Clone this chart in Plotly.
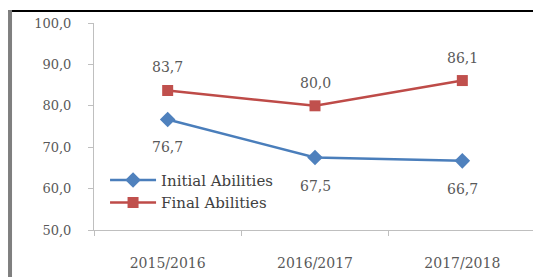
import plotly.graph_objects as go

years = ["2015/2016", "2016/2017", "2017/2018"]
initial_abilities = [76.7, 67.5, 66.7]
final_abilities = [83.7, 80.0, 86.1]
y_ticks = [50, 60, 70, 80, 90, 100]

FONT = "DejaVu Serif"
GRAY = "#595959"

fig = go.Figure()
fig.add_trace(go.Scatter(
    x=years, y=initial_abilities, name="Initial Abilities",
    mode="lines+markers",
    line=dict(color="#4A7EBB", width=2.5),
    marker=dict(symbol="diamond", size=12, color="#4F81BD"),
))
fig.add_trace(go.Scatter(
    x=years, y=final_abilities, name="Final Abilities",
    mode="lines+markers",
    line=dict(color="#BE4B48", width=2.5),
    marker=dict(symbol="square", size=11, color="#C0504D"),
))

annotations = []
for xv, yv in zip(years, initial_abilities):
    annotations.append(dict(x=xv, y=yv, text=f"{yv:.1f}".replace(".", ","), showarrow=False,
                            yshift=-28, font=dict(family=FONT, size=14, color=GRAY)))
for xv, yv in zip(years, final_abilities):
    annotations.append(dict(x=xv, y=yv, text=f"{yv:.1f}".replace(".", ","), showarrow=False,
                            yshift=23, font=dict(family=FONT, size=14, color=GRAY)))

fig.update_layout(
    width=533, height=269,
    margin=dict(l=86, r=5, t=15, b=47),
    paper_bgcolor="white", plot_bgcolor="white",
    separators=",.",
    font=dict(family=FONT, size=14, color=GRAY),
    showlegend=True,
    legend=dict(x=0.025, y=0.32, xanchor="left", yanchor="top",
                bgcolor="rgba(0,0,0,0)", font=dict(family=FONT, size=15, color="#404040"),
                tracegroupgap=0, itemwidth=46),
    xaxis=dict(type="category", range=[-0.5, 2.5], showgrid=False,
               showline=True, linecolor="#BFBFBF", linewidth=1,
               ticks="outside", tickson="boundaries", ticklen=5, tickcolor="#BFBFBF",
               ticklabelstandoff=20, tickfont=dict(family=FONT, size=14, color=GRAY)),
    yaxis=dict(range=[50, 100], tickvals=y_ticks, tickformat=".1f", showgrid=False,
               showline=True, linecolor="#BFBFBF", linewidth=1,
               ticks="outside", ticklen=5, tickcolor="#BFBFBF",
               ticklabelstandoff=14, tickfont=dict(family=FONT, size=13, color=GRAY),
               zeroline=False),
    annotations=annotations,
    shapes=[
        dict(type="line", xref="paper", yref="paper", x0=-0.195, x1=1.03, y0=1.058, y1=1.058,
             line=dict(color="black", width=2)),
        dict(type="line", xref="paper", yref="paper", x0=-0.19, x1=-0.19, y0=1.063, y1=-0.24,
             line=dict(color="#7F7F7F", width=4)),
    ],
)

fig.write_html("out.html")
